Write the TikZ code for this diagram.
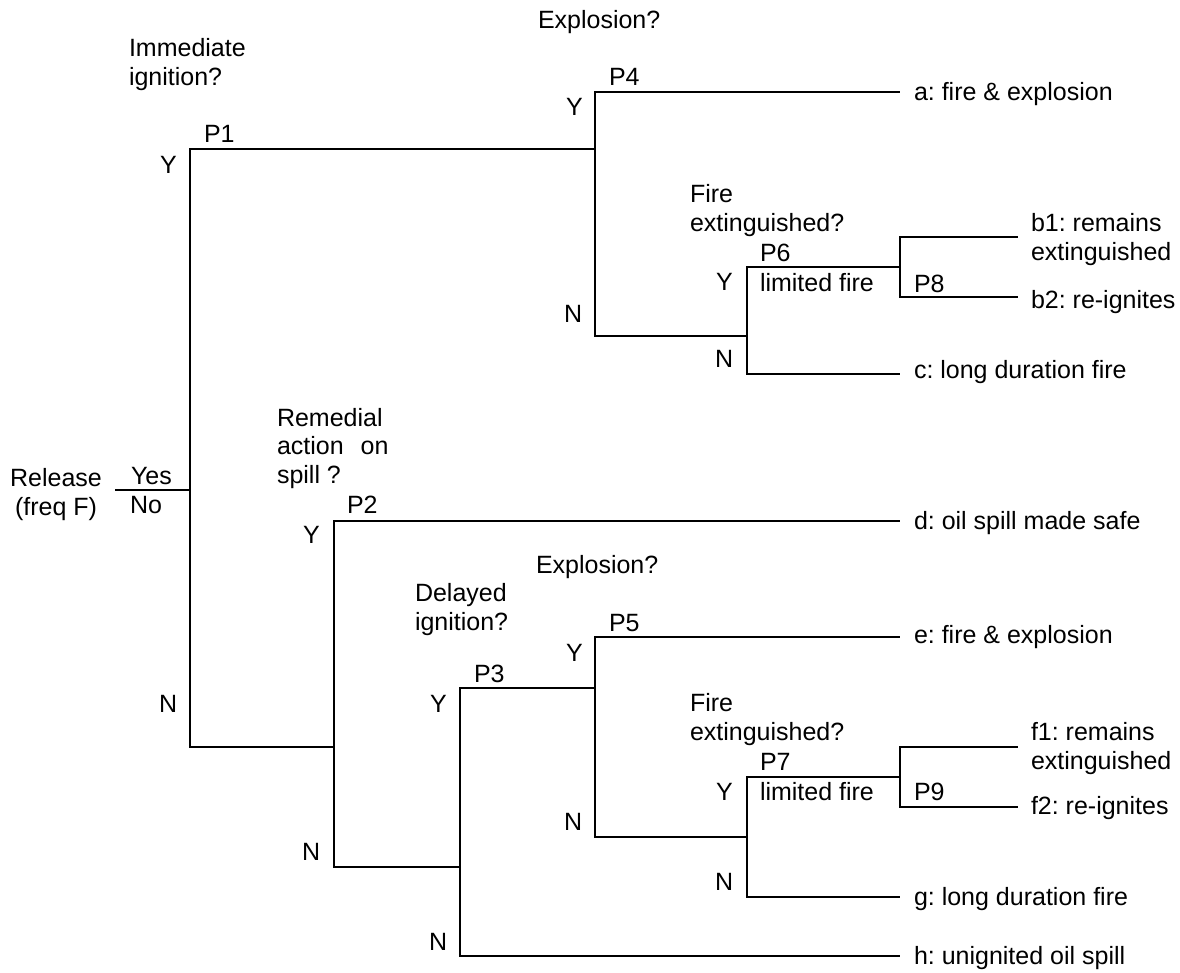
\documentclass[tikz,border=0pt]{standalone}
\usepackage{fontspec}
\setmainfont{Liberation Sans}
\frenchspacing
\begin{document}
\begin{tikzpicture}[x=1pt,y=-1pt,
  branch/.style={line width=2.5pt,line join=miter},
  lbl/.style={anchor=base west,inner sep=0pt,outer sep=0pt,align=left,
    font=\fontsize{25}{28.5}\selectfont}]
\useasboundingbox (0,0) rectangle (1180,972);
% junctions and end points
\coordinate (rel) at (115,490);
\coordinate (A) at (190,490);
\coordinate (B) at (595,149);
\coordinate (C) at (747,336);
\coordinate (D) at (900,267);
\coordinate (E) at (334,747);
\coordinate (F) at (460,867);
\coordinate (G) at (595,688);
\coordinate (H) at (747,837);
\coordinate (I) at (900,777);
\coordinate (aend) at (900,92);
\coordinate (b1end) at (1018,237);
\coordinate (b2end) at (1018,297);
\coordinate (cend) at (900,374);
\coordinate (dend) at (900,521);
\coordinate (eend) at (900,637);
\coordinate (f1end) at (1018,747);
\coordinate (f2end) at (1018,807);
\coordinate (gend) at (900,897);
\coordinate (hend) at (900,956);
% branches
\draw[branch] (rel) -- (A);
\draw[branch] (A) |- (B);
\draw[branch] (A) |- (E);
\draw[branch] (B) |- (aend);
\draw[branch] (B) |- (C);
\draw[branch] (C) |- (D);
\draw[branch] (C) |- (cend);
\draw[branch] (D) |- (b1end);
\draw[branch] (D) |- (b2end);
\draw[branch] (E) |- (dend);
\draw[branch] (E) |- (F);
\draw[branch] (F) |- (G);
\draw[branch] (F) |- (hend);
\draw[branch] (G) |- (eend);
\draw[branch] (G) |- (H);
\draw[branch] (H) |- (I);
\draw[branch] (H) |- (gend);
\draw[branch] (I) |- (f1end);
\draw[branch] (I) |- (f2end);
% labels (base = baseline of last line)
\node[lbl] (q1) at (538,28) {Explosion?};
\node[lbl] (q2) at (129,85) {Immediate\\ignition?};
\node[lbl] (p1) at (204,142) {P1};
\node[lbl] (yA) at (160,173) {Y};
\node[lbl] (nA) at (159,712) {N};
\node[lbl] (yB) at (566,115) {Y};
\node[lbl] (nB) at (564,322) {N};
\node[lbl] (p4) at (609,85) {P4};
\node[lbl] (oa) at (914,100) {a: fire \& explosion};
\node[lbl] (q3) at (690,231) {Fire\\extinguished?};
\node[lbl] (p6) at (760,261) {P6};
\node[lbl] (lf1) at (760,291) {limited fire};
\node[lbl] (yC) at (716,290) {Y};
\node[lbl] (nC) at (715,367) {N};
\node[lbl] (p8) at (914,292) {P8};
\node[lbl] (ob1) at (1031,260) {b1: remains\\extinguished};
\node[lbl] (ob2) at (1031,308) {b2: re-ignites};
\node[lbl] (oc) at (914,378) {c: long duration fire};
\node[lbl] (q4) at (277,483) {Remedial\\action\hspace{17pt}on\\spill ?};
\node[lbl,align=center,anchor=base] (release) at (56,515) {Release\\(freq F)};
\node[lbl] (yes) at (131,484) {Yes};
\node[lbl] (no) at (130,513) {No};
\node[lbl] (p2) at (347,513) {P2};
\node[lbl] (yE) at (303,543) {Y};
\node[lbl] (nE) at (302,860) {N};
\node[lbl] (od) at (914,529) {d: oil spill made safe};
\node[lbl] (q5) at (415,630) {Delayed\\ignition?};
\node[lbl] (q6) at (536,573) {Explosion?};
\node[lbl] (p3) at (474,682) {P3};
\node[lbl] (yF) at (430,712) {Y};
\node[lbl] (nF) at (429,950) {N};
\node[lbl] (yG) at (566,661) {Y};
\node[lbl] (nG) at (564,830) {N};
\node[lbl] (p5) at (609,631) {P5};
\node[lbl] (oe) at (914,643) {e: fire \& explosion};
\node[lbl] (q7) at (690,740) {Fire\\extinguished?};
\node[lbl] (p7) at (760,770) {P7};
\node[lbl] (lf2) at (760,800) {limited fire};
\node[lbl] (yH) at (716,800) {Y};
\node[lbl] (nH) at (715,890) {N};
\node[lbl] (p9) at (914,800) {P9};
\node[lbl] (of1) at (1031,769) {f1: remains\\extinguished};
\node[lbl] (of2) at (1031,814) {f2: re-ignites};
\node[lbl] (og) at (914,905) {g: long duration fire};
\node[lbl] (oh) at (914,964) {h: unignited oil spill};
\end{tikzpicture}
\end{document}
